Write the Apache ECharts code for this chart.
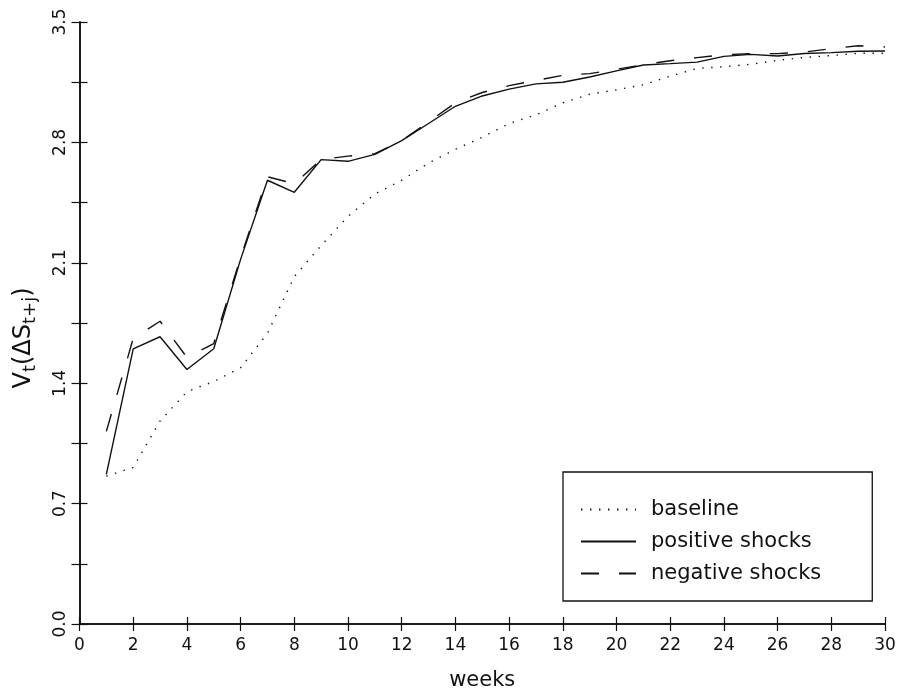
<!DOCTYPE html>
<html>
<head>
<meta charset="utf-8">
<script src="https://cdn.jsdelivr.net/npm/echarts@6/dist/echarts.min.js"></script>
<style>html,body{margin:0;padding:0;background:#fff;}#c{width:902px;height:696px;}</style>
</head>
<body>
<div id="c"></div>
<script>
// ---- data ----
const weeks = [1,2,3,4,5,6,7,8,9,10,11,12,13,14,15,16,17,18,19,20,21,22,23,24,25,26,27,28,29,30];
const baseline = [0.86,0.91,1.18,1.35,1.41,1.49,1.69,2.02,2.20,2.37,2.50,2.58,2.68,2.76,2.83,2.91,2.96,3.03,3.08,3.106,3.135,3.185,3.23,3.24,3.254,3.277,3.294,3.305,3.318,3.318];
const positiveShocks = [0.87,1.60,1.67,1.48,1.60,2.12,2.58,2.51,2.70,2.69,2.73,2.81,2.91,3.01,3.07,3.11,3.14,3.15,3.18,3.216,3.25,3.258,3.267,3.30,3.312,3.302,3.317,3.322,3.33,3.331];
const negativeShocks = [1.12,1.66,1.76,1.55,1.63,2.13,2.60,2.56,2.70,2.72,2.735,2.81,2.92,3.03,3.09,3.13,3.16,3.19,3.20,3.225,3.252,3.275,3.293,3.31,3.316,3.316,3.325,3.345,3.362,3.355];
const seriesNames = ['baseline','positive shocks','negative shocks'];
const xTicks = {min:0, max:30, step:2};
const yTicks = {min:0, max:3.5, step:0.7};

const pair = arr => weeks.map((w,i)=>[w, arr[i]]);
const FONT = 'DejaVu Sans';
const INK = '#111';

const chart = echarts.init(document.getElementById('c'), null, {renderer:'canvas'});
const axisCommon = {
  axisLine:{show:true, lineStyle:{color:INK, width:1.6}},
  splitLine:{show:false}
};
const tickIn = len => ({show:true, inside:true, length:len, lineStyle:{color:INK, width:1.2}});
const minorIn = len => ({show:true, splitNumber:2, length:len, lineStyle:{color:INK, width:1.2}});
chart.setOption({
  animation:false,
  backgroundColor:'#fff',
  grid:{left:78, right:17, top:22, bottom:72, containLabel:false},
  xAxis:[
    Object.assign({}, axisCommon, {
      type:'value', min:xTicks.min, max:xTicks.max, interval:xTicks.step, position:'bottom',
      axisTick:tickIn(7),
      axisLabel:{show:true, margin:13, fontSize:17, color:INK, fontFamily:FONT},
      name:'weeks', nameLocation:'middle', nameGap:46,
      nameTextStyle:{fontSize:21, color:INK, fontFamily:FONT}
    }),
    Object.assign({}, axisCommon, {
      type:'value', min:xTicks.min, max:xTicks.max, interval:xTicks.step, position:'top',
      axisTick:tickIn(7),
      axisLabel:{show:false}
    })
  ],
  yAxis:[
    Object.assign({}, axisCommon, {
      type:'value', min:yTicks.min, max:yTicks.max, interval:yTicks.step, position:'left',
      axisTick:tickIn(8),
      minorTick:minorIn(8),
      axisLabel:{show:true, rotate:90, margin:10, fontSize:17, color:INK, fontFamily:FONT,
        formatter: v => v.toFixed(1)},
      name:'{v|V}{s|t}{v|(ΔS}{s|t+j}{v|)}', nameLocation:'middle', nameRotate:90, nameGap:41,
      nameTextStyle:{fontFamily:FONT, color:INK, padding:[0,30,0,0], rich:{
        v:{fontSize:24, fontFamily:FONT, color:INK, lineHeight:30, verticalAlign:'middle'},
        s:{fontSize:18, fontFamily:FONT, color:INK, lineHeight:30, verticalAlign:'middle', padding:[13,0,0,0]}
      }}
    }),
    Object.assign({}, axisCommon, {
      type:'value', min:yTicks.min, max:yTicks.max, interval:yTicks.step, position:'right',
      axisTick:tickIn(8),
      minorTick:minorIn(8),
      axisLabel:{show:false}
    })
  ],
  legend:{
    orient:'vertical', left:563, top:472,
    padding:[27, 51, 17, 17], itemGap:11, itemWidth:55, itemHeight:14,
    borderColor:INK, borderWidth:1.3, backgroundColor:'#fff',
    itemStyle:{opacity:0},
    textStyle:{fontSize:21, color:INK, fontFamily:FONT, padding:[0,0,0,10]},
    data:seriesNames
  },
  series:[
    {name:seriesNames[0], type:'line', data:pair(baseline), symbol:'none', showSymbol:false,
     lineStyle:{color:INK, width:1.4, type:[1.4,7.6]}, itemStyle:{color:INK}},
    {name:seriesNames[1], type:'line', data:pair(positiveShocks), symbol:'none', showSymbol:false,
     lineStyle:{color:INK, width:1.4, type:'solid'}, itemStyle:{color:INK}},
    {name:seriesNames[2], type:'line', data:pair(negativeShocks), symbol:'none', showSymbol:false,
     lineStyle:{color:INK, width:1.4, type:[18,20]}, itemStyle:{color:INK}}
  ]
});
</script>
</body>
</html>
